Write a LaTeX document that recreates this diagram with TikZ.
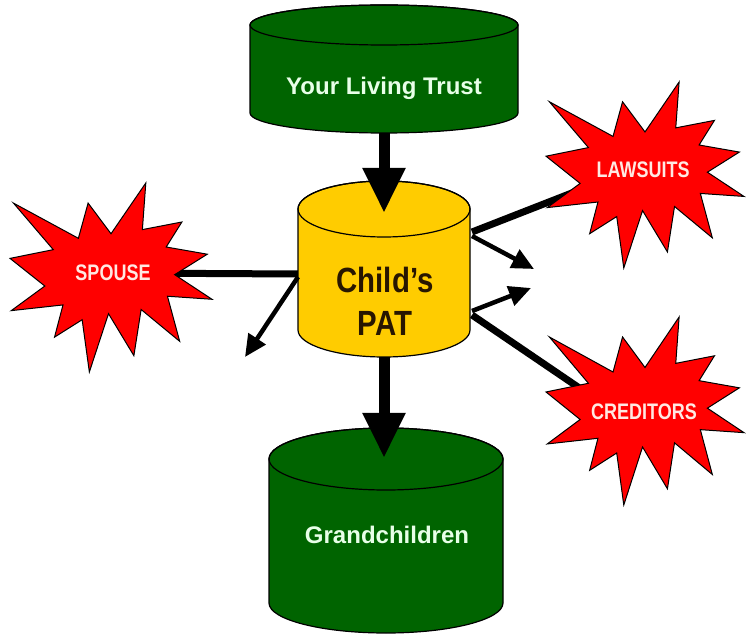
\documentclass[tikz,border=0pt]{standalone}
\usepackage{fontspec}
\setmainfont{Liberation Sans}
\newfontfamily\burstfont[FakeStretch=0.8]{Liberation Sans}
\newfontfamily\patfont[FakeStretch=0.84]{Liberation Sans}
\usetikzlibrary{arrows.meta}
\definecolor{trustgreen}{RGB}{0,100,0}
\definecolor{patyellow}{RGB}{255,204,0}
\definecolor{burstred}{RGB}{255,0,0}
\definecolor{greentext}{RGB}{232,255,232}
\definecolor{bursttext}{RGB}{255,232,226}
\definecolor{pattext}{RGB}{40,22,0}
\pgfdeclarelayer{bg}
\pgfsetlayers{bg,main}
% cylinder: cx, a, ytop, rtop, ybot, rbot, colour
\newcommand{\drawcyl}[7]{%
  \filldraw[cylline,fill=#7] (#1-#2,#3) -- (#1-#2,#5)
    arc[start angle=180,end angle=0,x radius=#2,y radius=#6]
    -- (#1+#2,#3)
    arc[start angle=0,end angle=-180,x radius=#2,y radius=#4] -- cycle;
  \draw[cylline] (#1,#3) ellipse[x radius=#2,y radius=#4];
}
% starburst: x0, y0, W, H
\newcommand{\drawburst}[4]{%
  \begin{scope}[shift={(#1,#2)},xscale=#3/216,yscale=#4/216]
    \filldraw[burstline] (108,58) -- (145.22,0) -- (141.55,53.25) -- (183.80,44.57)
      -- (167.02,73.15) -- (210.97,81.37) -- (176.07,104.75) -- (216,132.90)
      -- (168.37,129.42) -- (181.45,180.95) -- (140.20,144.57) -- (132.47,197.37)
      -- (105.32,149.35) -- (84.85,216) -- (77.15,156.27) -- (47.62,176.17)
      -- (56.67,139.37) -- (1.35,145.87) -- (37.22,117.75) -- (0,86.15)
      -- (46.27,76.17) -- (3.70,22.95) -- (73.12,63.20) -- (83.52,22.95) -- cycle;
  \end{scope}
}
\tikzset{
  cylline/.style={draw=black,line width=1.2pt},
  burstline/.style={draw=black,line width=1pt,fill=burstred,line join=miter},
  cylbox/.style={draw=none,inner sep=0pt,outer sep=0pt},
  greenlabel/.style={text=greentext,font=\fontsize{24}{28}\selectfont\bfseries,inner sep=0pt},
  burstlabel/.style={text=bursttext,font=\burstfont\fontsize{22.5}{26}\selectfont\bfseries,inner sep=0pt},
  patlabel/.style={text=pattext,font=\patfont\fontsize{35}{43}\selectfont\bfseries,align=center,inner sep=0pt},
  mainarrow/.style={line width=11pt,-{Triangle[length=45pt,width=40pt]}},
  hitline/.style={line width=7pt,line cap=butt},
  deflect/.style={line width=4.5pt,-{Triangle[length=22pt,width=20pt]}},
}
\begin{document}
\begin{tikzpicture}[x=1pt,y=-1pt]
\useasboundingbox (0,0) rectangle (753,636);
\begin{pgfonlayer}{bg}
\fill[white] (0,0) rectangle (753,636);
\end{pgfonlayer}
% cylinders
\drawcyl{384}{134}{25}{20}{113}{20}{trustgreen}
\drawcyl{384}{86}{209}{28}{330}{27}{patyellow}
\drawcyl{386}{117}{459}{31}{603}{30}{trustgreen}
\node[cylbox,minimum width=268pt,minimum height=128pt] (trust) at (384,69) {};
\node[cylbox,minimum width=172pt,minimum height=176pt] (pat) at (384,269) {};
\node[cylbox,minimum width=234pt,minimum height=205pt] (grand) at (386,530.5) {};
% bursts
\drawburst{10}{183}{202}{189}
\drawburst{546}{82}{198}{186}
\drawburst{546}{317}{198}{188}
% labels
\node[greenlabel] (trustlabel) at (384,88) {Your Living Trust};
\node[greenlabel] (grandlabel) at (387,535) {Grandchildren};
\node[patlabel] (patlabel) at (385,301) {Child’s\\PAT};
\node[burstlabel] (spouse) at (113,273) {SPOUSE};
\node[burstlabel] (lawsuits) at (643,170) {LAWSUITS};
\node[burstlabel] (creditors) at (644,412) {CREDITORS};
% contact points and free ends
\coordinate (spousehit) at ([yshift=-5pt]pat.west);
\coordinate (lawhit) at ([xshift=2pt,yshift=37pt]pat.east);
\coordinate (credhit) at ([xshift=2pt,yshift=-46pt]pat.east);
\coordinate (lawin) at (600,182);
\coordinate (credin) at (600,402);
\coordinate (spousetip) at (245,357);
\coordinate (lawtip) at (534,269);
\coordinate (credtip) at (531,288);
\coordinate (pattip) at ([yshift=-32pt]pat.north);
\coordinate (grandtip) at ([yshift=-30pt]grand.north);
% lines from the threats (behind the bursts)
\begin{pgfonlayer}{bg}
\draw[hitline] (spouse.center) -- (spousehit);
\draw[hitline] (lawin) -- (lawhit);
\draw[hitline] (credin) -- (credhit);
\end{pgfonlayer}
% deflected arrows
\draw[deflect] ([yshift=-3pt]spousehit) -- (spousetip);
\draw[deflect] ([yshift=-4pt]lawhit) -- (lawtip);
\draw[deflect] ([yshift=4pt]credhit) -- (credtip);
% main flow
\draw[mainarrow] (trust.south) -- (trust.south |- pattip);
\draw[mainarrow] (pat.south) -- (pat.south |- grandtip);
\end{tikzpicture}
\end{document}
